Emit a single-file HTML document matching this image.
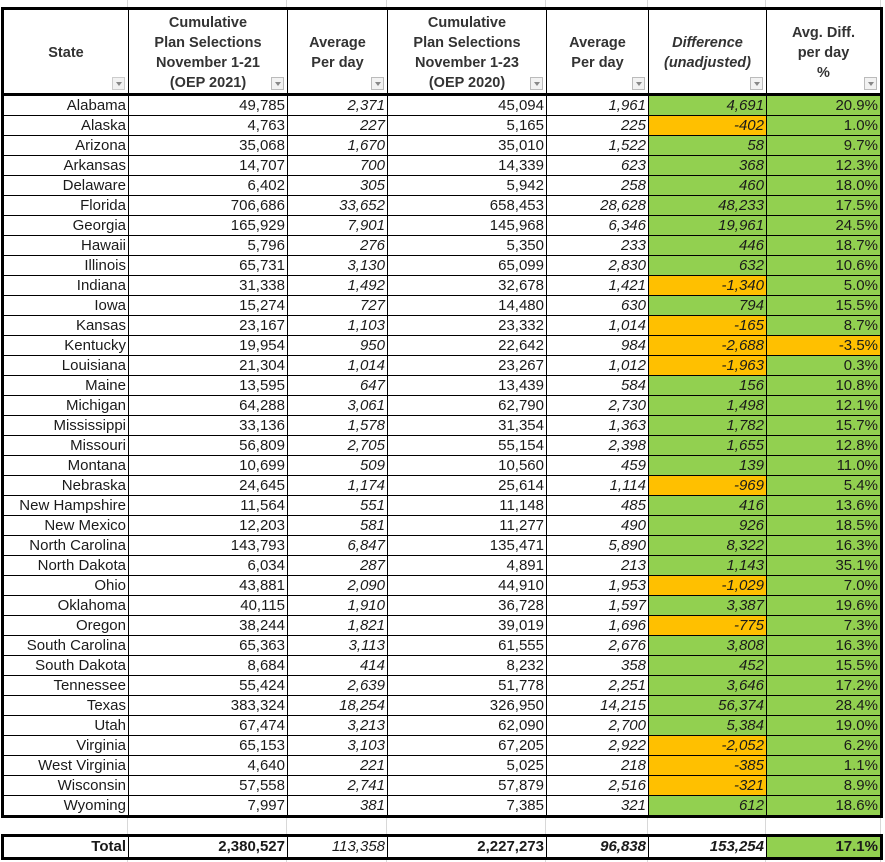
<!DOCTYPE html>
<html><head><meta charset="utf-8"><style>
body{margin:0;background:#fff;width:885px;height:862px;overflow:hidden;position:relative;font-family:"Liberation Sans",Arial,sans-serif;color:#1a1a1a}
.g{position:absolute;top:0;height:862px;width:1px;background:#d8d8d8}
table{position:absolute;left:1px;border-collapse:collapse;table-layout:fixed;border:3px solid #000;background:#fff}
td{border:1px solid #000;padding:0 2px 0 0;text-align:right;font-size:15px;line-height:18px;height:19px;white-space:nowrap;overflow:hidden;position:relative}
th{border:1px solid #000;border-bottom:3px solid #000;font-size:14.5px;line-height:20px;font-weight:bold;color:#333;height:79px;position:relative;padding:3px 0 0 0}
td.i{font-style:italic}
.G{background:#92d050}.O{background:#ffc000}
.f{position:absolute;right:3px;bottom:3px;width:11px;height:11px;border:1px solid #bbb;background:#f2f2f2}
.f:after{content:"";position:absolute;left:3px;top:4px;border-left:3px solid transparent;border-right:3px solid transparent;border-top:4px solid #888}
#t2 td{font-weight:bold;height:20px}
</style></head><body>
<div class="g" style="left:127px"></div><div class="g" style="left:286px"></div><div class="g" style="left:386px"></div><div class="g" style="left:545px"></div><div class="g" style="left:647px"></div><div class="g" style="left:765px"></div><div class="g" style="left:880px"></div>
<table style="top:7px;width:882px">
<colgroup><col style="width:126px"><col style="width:159px"><col style="width:100px"><col style="width:159px"><col style="width:102px"><col style="width:118px"><col style="width:115px"></colgroup>
<tr><th>State<span class="f" style="border-color:#ccc"></span></th><th>Cumulative<br>Plan Selections<br>November 1-21<br>(OEP 2021)<span class="f"></span></th><th>Average<br>Per day<span class="f"></span></th><th>Cumulative<br>Plan Selections<br>November 1-23<br>(OEP 2020)<span class="f"></span></th><th>Average<br>Per day<span class="f"></span></th><th><i>Difference<br>(unadjusted)</i><span class="f"></span></th><th>Avg. Diff.<br>per day<br>%<span class="f"></span></th></tr>
<tr><td>Alabama</td><td>49,785</td><td class="i">2,371</td><td>45,094</td><td class="i">1,961</td><td class="i G">4,691</td><td class="G">20.9%</td></tr>
<tr><td>Alaska</td><td>4,763</td><td class="i">227</td><td>5,165</td><td class="i">225</td><td class="i O">-402</td><td class="G">1.0%</td></tr>
<tr><td>Arizona</td><td>35,068</td><td class="i">1,670</td><td>35,010</td><td class="i">1,522</td><td class="i G">58</td><td class="G">9.7%</td></tr>
<tr><td>Arkansas</td><td>14,707</td><td class="i">700</td><td>14,339</td><td class="i">623</td><td class="i G">368</td><td class="G">12.3%</td></tr>
<tr><td>Delaware</td><td>6,402</td><td class="i">305</td><td>5,942</td><td class="i">258</td><td class="i G">460</td><td class="G">18.0%</td></tr>
<tr><td>Florida</td><td>706,686</td><td class="i">33,652</td><td>658,453</td><td class="i">28,628</td><td class="i G">48,233</td><td class="G">17.5%</td></tr>
<tr><td>Georgia</td><td>165,929</td><td class="i">7,901</td><td>145,968</td><td class="i">6,346</td><td class="i G">19,961</td><td class="G">24.5%</td></tr>
<tr><td>Hawaii</td><td>5,796</td><td class="i">276</td><td>5,350</td><td class="i">233</td><td class="i G">446</td><td class="G">18.7%</td></tr>
<tr><td>Illinois</td><td>65,731</td><td class="i">3,130</td><td>65,099</td><td class="i">2,830</td><td class="i G">632</td><td class="G">10.6%</td></tr>
<tr><td>Indiana</td><td>31,338</td><td class="i">1,492</td><td>32,678</td><td class="i">1,421</td><td class="i O">-1,340</td><td class="G">5.0%</td></tr>
<tr><td>Iowa</td><td>15,274</td><td class="i">727</td><td>14,480</td><td class="i">630</td><td class="i G">794</td><td class="G">15.5%</td></tr>
<tr><td>Kansas</td><td>23,167</td><td class="i">1,103</td><td>23,332</td><td class="i">1,014</td><td class="i O">-165</td><td class="G">8.7%</td></tr>
<tr><td>Kentucky</td><td>19,954</td><td class="i">950</td><td>22,642</td><td class="i">984</td><td class="i O">-2,688</td><td class="O">-3.5%</td></tr>
<tr><td>Louisiana</td><td>21,304</td><td class="i">1,014</td><td>23,267</td><td class="i">1,012</td><td class="i O">-1,963</td><td class="G">0.3%</td></tr>
<tr><td>Maine</td><td>13,595</td><td class="i">647</td><td>13,439</td><td class="i">584</td><td class="i G">156</td><td class="G">10.8%</td></tr>
<tr><td>Michigan</td><td>64,288</td><td class="i">3,061</td><td>62,790</td><td class="i">2,730</td><td class="i G">1,498</td><td class="G">12.1%</td></tr>
<tr><td>Mississippi</td><td>33,136</td><td class="i">1,578</td><td>31,354</td><td class="i">1,363</td><td class="i G">1,782</td><td class="G">15.7%</td></tr>
<tr><td>Missouri</td><td>56,809</td><td class="i">2,705</td><td>55,154</td><td class="i">2,398</td><td class="i G">1,655</td><td class="G">12.8%</td></tr>
<tr><td>Montana</td><td>10,699</td><td class="i">509</td><td>10,560</td><td class="i">459</td><td class="i G">139</td><td class="G">11.0%</td></tr>
<tr><td>Nebraska</td><td>24,645</td><td class="i">1,174</td><td>25,614</td><td class="i">1,114</td><td class="i O">-969</td><td class="G">5.4%</td></tr>
<tr><td>New Hampshire</td><td>11,564</td><td class="i">551</td><td>11,148</td><td class="i">485</td><td class="i G">416</td><td class="G">13.6%</td></tr>
<tr><td>New Mexico</td><td>12,203</td><td class="i">581</td><td>11,277</td><td class="i">490</td><td class="i G">926</td><td class="G">18.5%</td></tr>
<tr><td>North Carolina</td><td>143,793</td><td class="i">6,847</td><td>135,471</td><td class="i">5,890</td><td class="i G">8,322</td><td class="G">16.3%</td></tr>
<tr><td>North Dakota</td><td>6,034</td><td class="i">287</td><td>4,891</td><td class="i">213</td><td class="i G">1,143</td><td class="G">35.1%</td></tr>
<tr><td>Ohio</td><td>43,881</td><td class="i">2,090</td><td>44,910</td><td class="i">1,953</td><td class="i O">-1,029</td><td class="G">7.0%</td></tr>
<tr><td>Oklahoma</td><td>40,115</td><td class="i">1,910</td><td>36,728</td><td class="i">1,597</td><td class="i G">3,387</td><td class="G">19.6%</td></tr>
<tr><td>Oregon</td><td>38,244</td><td class="i">1,821</td><td>39,019</td><td class="i">1,696</td><td class="i O">-775</td><td class="G">7.3%</td></tr>
<tr><td>South Carolina</td><td>65,363</td><td class="i">3,113</td><td>61,555</td><td class="i">2,676</td><td class="i G">3,808</td><td class="G">16.3%</td></tr>
<tr><td>South Dakota</td><td>8,684</td><td class="i">414</td><td>8,232</td><td class="i">358</td><td class="i G">452</td><td class="G">15.5%</td></tr>
<tr><td>Tennessee</td><td>55,424</td><td class="i">2,639</td><td>51,778</td><td class="i">2,251</td><td class="i G">3,646</td><td class="G">17.2%</td></tr>
<tr><td>Texas</td><td>383,324</td><td class="i">18,254</td><td>326,950</td><td class="i">14,215</td><td class="i G">56,374</td><td class="G">28.4%</td></tr>
<tr><td>Utah</td><td>67,474</td><td class="i">3,213</td><td>62,090</td><td class="i">2,700</td><td class="i G">5,384</td><td class="G">19.0%</td></tr>
<tr><td>Virginia</td><td>65,153</td><td class="i">3,103</td><td>67,205</td><td class="i">2,922</td><td class="i O">-2,052</td><td class="G">6.2%</td></tr>
<tr><td>West Virginia</td><td>4,640</td><td class="i">221</td><td>5,025</td><td class="i">218</td><td class="i O">-385</td><td class="G">1.1%</td></tr>
<tr><td>Wisconsin</td><td>57,558</td><td class="i">2,741</td><td>57,879</td><td class="i">2,516</td><td class="i O">-321</td><td class="G">8.9%</td></tr>
<tr><td>Wyoming</td><td>7,997</td><td class="i">381</td><td>7,385</td><td class="i">321</td><td class="i G">612</td><td class="G">18.6%</td></tr>
</table>
<table id="t2" style="top:834px;width:882px">
<colgroup><col style="width:126px"><col style="width:159px"><col style="width:100px"><col style="width:159px"><col style="width:102px"><col style="width:118px"><col style="width:115px"></colgroup>
<tr><td>Total</td><td>2,380,527</td><td class="i" style="font-weight:normal">113,358</td><td>2,227,273</td><td class="i">96,838</td><td class="i">153,254</td><td class="G">17.1%</td></tr>
</table>
</body></html>
